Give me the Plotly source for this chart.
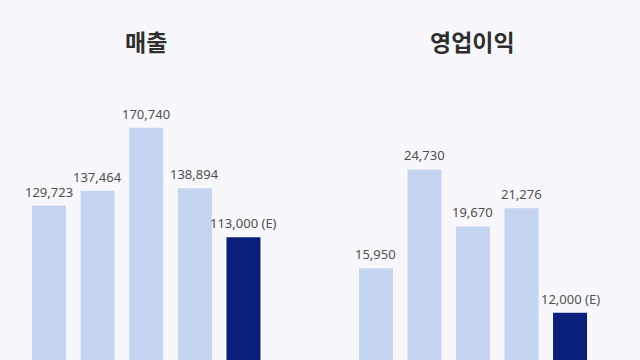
import plotly.graph_objects as go
from plotly.subplots import make_subplots

periods = ["P1", "P2", "P3", "P4", "P5"]
revenue = [129723, 137464, 170740, 138894, 113000]
op_profit = [15950, 24730, 19670, 21276, 12000]
suffixes = ["", "", "", "", " (E)"]
estimate_flags = [False, False, False, False, True]

light = "#c5d4f1"
dark = "#0a1f7c"
bg = "#f8f8fc"

fig = make_subplots(rows=1, cols=2, horizontal_spacing=0.13)

colors = [dark if e else light for e in estimate_flags]
for col, vals in ((1, revenue), (2, op_profit)):
    fig.add_trace(go.Bar(x=periods, y=vals, marker=dict(color=colors, line=dict(width=0)),
                         showlegend=False, hoverinfo="skip"), row=1, col=col)
    xref = "x" if col == 1 else "x2"
    yref = "y" if col == 1 else "y2"
    for p, v, s in zip(periods, vals, suffixes):
        fig.add_annotation(x=p, y=v, xref=xref, yref=yref, text=f"{v:,}{s}",
                           showarrow=False, xanchor="center", yanchor="bottom", yshift=3,
                           font=dict(family="Noto Sans, Open Sans, sans-serif", size=13, color="#4f4f4f"))

cat_range = [-0.5, len(periods) - 0.5]
fig.update_layout(
    width=640, height=360,
    margin=dict(l=0, r=0, t=100, b=0),
    paper_bgcolor=bg, plot_bgcolor=bg,
    bargap=0.30,
    xaxis=dict(domain=[0.0386, 0.4184], range=cat_range, visible=False),
    xaxis2=dict(domain=[0.5495, 0.9286], range=cat_range, visible=False),
    yaxis=dict(range=[48400, 185300], visible=False),
    yaxis2=dict(range=[7800, 30900], visible=False),
)

title_font = dict(family="Noto Sans CJK KR, sans-serif", size=23, color="#2e2e2e")
fig.add_annotation(text="<b>매출</b>", xref="paper", yref="paper", x=(0.0386 + 0.4184) / 2,
                   y=(360 - 41) / 260, xanchor="center", yanchor="middle", showarrow=False, font=title_font)
fig.add_annotation(text="<b>영업이익</b>", xref="paper", yref="paper", x=(0.5495 + 0.9286) / 2,
                   y=(360 - 41) / 260, xanchor="center", yanchor="middle", showarrow=False, font=title_font)

fig.write_html(
    "out.html",
    config={"displayModeBar": False, "responsive": False},
    post_script=("document.documentElement.style.margin='0';document.body.style.margin='0';"
                 "document.documentElement.style.overflow='hidden';"
                 "document.body.style.background='%s';" % bg),
)
